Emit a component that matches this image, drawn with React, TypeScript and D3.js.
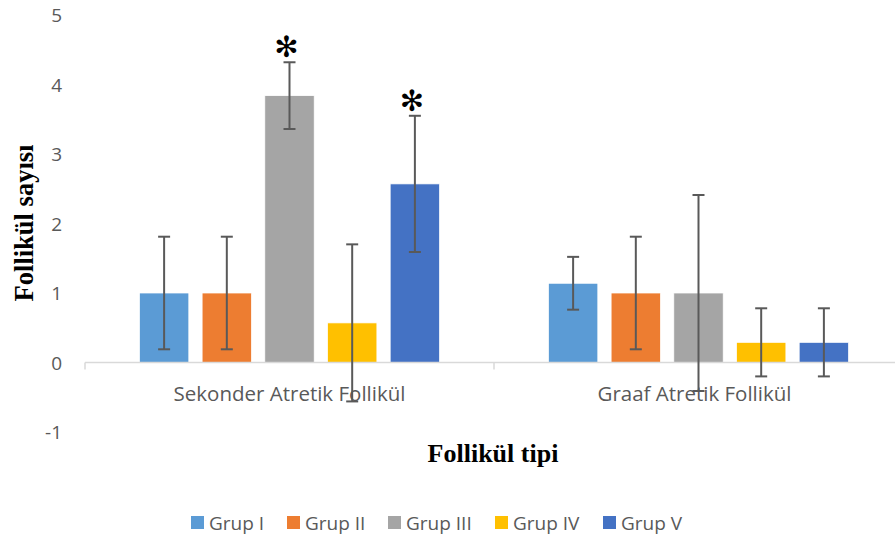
import React from "react";
import * as d3 from "d3";

const categories = ["Sekonder Atretik Follikül", "Graaf Atretik Follikül"];
const groups = ["Grup I", "Grup II", "Grup III", "Grup IV", "Grup V"];
const colors = ["#5B9BD5", "#ED7D31", "#A5A5A5", "#FFC000", "#4472C4"];
// values per group: [sekonder, graaf]
const means = [
  [1.0, 1.14],
  [1.0, 1.0],
  [3.84, 1.0],
  [0.57, 0.29],
  [2.57, 0.29],
];
const errors = [
  [0.81, 0.38],
  [0.81, 0.81],
  [0.48, 1.41],
  [1.13, 0.49],
  [0.98, 0.49],
];
const significant = [
  [false, false],
  [false, false],
  [true, false],
  [false, false],
  [true, false],
];
const yTicks = [-1, 0, 1, 2, 3, 4, 5];

const W = 895;
const H = 541;
const labelFont = "'Open Sans', Lato, sans-serif";
const titleFont = "'Liberation Serif', 'DejaVu Serif', serif";

export default function App() {
  const y = d3.scaleLinear().domain([-1, 5]).range([432, 15]);
  const x0 = d3.scaleBand().domain(categories).range([85, 903]);
  const x1 = d3
    .scaleBand()
    .domain(groups)
    .range([0, x0.bandwidth()])
    .paddingInner(0.212)
    .paddingOuter(0.868);
  const cap = 6;

  return (
    <div style={{ position: "fixed", left: 0, top: 0 }}>
      <svg width={W} height={H} style={{ display: "block", background: "#fff" }}>
        {/* y tick labels */}
        {yTicks.map((t) => (
          <text
            key={t}
            x={62}
            y={y(t)}
            textAnchor="end"
            dominantBaseline="central"
            fontFamily={labelFont}
            fontSize={19}
            fill="#595959"
          >
            {t}
          </text>
        ))}

        {/* bars */}
        {groups.map((g, gi) =>
          categories.map((c, ci) => {
            const v = means[gi][ci];
            const bx = x0(c)! + x1(g)!;
            return (
              <rect
                key={g + c}
                x={bx}
                y={y(Math.max(v, 0))}
                width={x1.bandwidth()}
                height={Math.abs(y(v) - y(0))}
                fill={colors[gi]}
                stroke="#ffffff"
                strokeWidth={0.75}
              />
            );
          })
        )}

        {/* x axis line */}
        <line x1={85} x2={W} y1={y(0)} y2={y(0)} stroke="#d9d9d9" strokeWidth={1.5} />
        {[85, x0(categories[1])!].map((tx) => (
          <line key={tx} x1={tx} x2={tx} y1={y(0)} y2={y(0) + 7} stroke="#d9d9d9" strokeWidth={1.5} />
        ))}

        {/* error bars */}
        {groups.map((g, gi) =>
          categories.map((c, ci) => {
            const v = means[gi][ci];
            const e = errors[gi][ci];
            const cx = x0(c)! + x1(g)! + x1.bandwidth() / 2;
            return (
              <g key={"e" + g + c} stroke="#595959" strokeWidth={2}>
                <line x1={cx} x2={cx} y1={y(v + e)} y2={y(v - e)} />
                <line x1={cx - cap} x2={cx + cap} y1={y(v + e)} y2={y(v + e)} />
                <line x1={cx - cap} x2={cx + cap} y1={y(v - e)} y2={y(v - e)} />
              </g>
            );
          })
        )}

        {/* significance asterisks */}
        {groups.map((g, gi) =>
          categories.map((c, ci) =>
            significant[gi][ci] ? (
              <text
                key={"s" + g + c}
                x={x0(c)! + x1(g)! + x1.bandwidth() / 2 - 3}
                y={y(means[gi][ci] + errors[gi][ci]) - 15}
                textAnchor="middle"
                dominantBaseline="central"
                fontFamily="'DejaVu Sans', sans-serif"
                fontSize={29}
                fill="#000"
              >
                ✻
              </text>
            ) : null
          )
        )}

        {/* category labels */}
        {categories.map((c) => (
          <text
            key={c}
            x={x0(c)! + x0.bandwidth() / 2 - (c === categories[1] ? 4 : 0)}
            y={393}
            textAnchor="middle"
            dominantBaseline="central"
            fontFamily={labelFont}
            fontSize={20.5}
            fill="#595959"
          >
            {c}
          </text>
        ))}

        {/* axis titles */}
        <text
          transform={`translate(24,223) rotate(-90)`}
          textAnchor="middle"
          dominantBaseline="central"
          fontFamily={titleFont}
          fontWeight="bold"
          fontSize={26.5}
          fill="#000"
        >
          Follikül sayısı
        </text>
        <text
          x={493}
          y={453}
          textAnchor="middle"
          dominantBaseline="central"
          fontFamily={titleFont}
          fontWeight="bold"
          fontSize={26}
          fill="#000"
        >
          Follikül tipi
        </text>

        {/* legend */}
        {groups.map((g, gi) => {
          const lx = [191, 287, 388, 495, 603][gi];
          return (
            <g key={"l" + g}>
              <rect x={lx} y={516} width={13} height={13} fill={colors[gi]} />
              <text
                x={lx + 18}
                y={523}
                dominantBaseline="central"
                fontFamily={labelFont}
                fontSize={19}
                fill="#595959"
              >
                {g}
              </text>
            </g>
          );
        })}
      </svg>
    </div>
  );
}
